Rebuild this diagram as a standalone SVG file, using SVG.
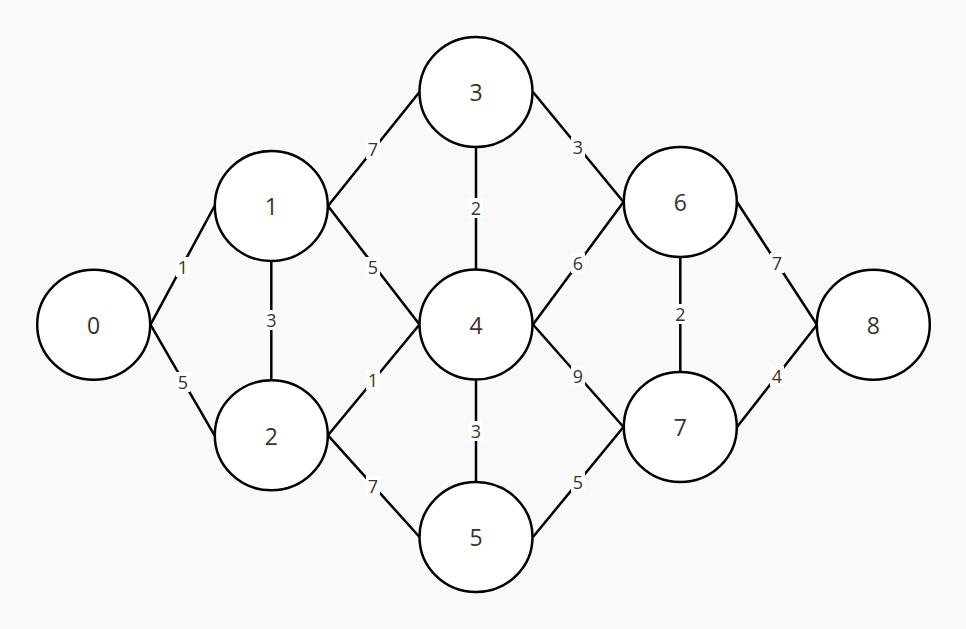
<svg xmlns="http://www.w3.org/2000/svg" width="966" height="629" viewBox="0 0 966 629">
<style>
.node ellipse{fill:#fff;stroke:#000;stroke-width:2.5}
.node text{font-family:"Open Sans","Noto Sans",sans-serif;font-size:23px;fill:#333;text-anchor:middle;dominant-baseline:central}
.edges line{stroke:#000;stroke-width:2.5}
.lbl rect{fill:#fff}
.lbl text{font-family:"Open Sans","Noto Sans",sans-serif;font-size:18px;fill:#333;text-anchor:middle;dominant-baseline:central}
</style>
<rect width="966" height="629" fill="#f9f9f9"/>
<g class="edges" id="edges">
<line x1="150.5" y1="324.7" x2="214.5" y2="206"/>
<line x1="150.5" y1="324.7" x2="214.5" y2="435.3"/>
<line x1="271.3" y1="261" x2="271.3" y2="380.3"/>
<line x1="328" y1="206" x2="419.5" y2="92"/>
<line x1="328" y1="206" x2="419.5" y2="324.5"/>
<line x1="328" y1="435.3" x2="419.5" y2="324.5"/>
<line x1="328" y1="435.3" x2="419.5" y2="537"/>
<line x1="476" y1="147" x2="476" y2="269.5"/>
<line x1="533" y1="92" x2="623.5" y2="202"/>
<line x1="533" y1="324.5" x2="623.5" y2="202"/>
<line x1="476" y1="379.5" x2="476" y2="482"/>
<line x1="533" y1="324.5" x2="623.5" y2="427"/>
<line x1="533" y1="537" x2="623.5" y2="427"/>
<line x1="680.3" y1="257" x2="680.3" y2="372"/>
<line x1="737" y1="202" x2="817" y2="324.7"/>
<line x1="737" y1="427" x2="817" y2="324.7"/>
<g class="lbl">
<rect x="176" y="257" width="14" height="20"/><text x="183" y="267">1</text>
<rect x="176" y="372" width="14" height="20"/><text x="183" y="382">5</text>
<rect x="264" y="310" width="14" height="20"/><text x="271.3" y="320">3</text>
<rect x="366" y="139" width="14" height="20"/><text x="373" y="149">7</text>
<rect x="366" y="257" width="14" height="20"/><text x="373" y="267">5</text>
<rect x="366" y="370" width="14" height="20"/><text x="373" y="380">1</text>
<rect x="366" y="476" width="14" height="20"/><text x="373" y="486">7</text>
<rect x="469" y="198" width="14" height="20"/><text x="476" y="208">2</text>
<rect x="571" y="137" width="14" height="20"/><text x="578" y="147">3</text>
<rect x="571" y="253" width="14" height="20"/><text x="578" y="263">6</text>
<rect x="469" y="421" width="14" height="20"/><text x="476" y="431">3</text>
<rect x="571" y="366" width="14" height="20"/><text x="578" y="376">9</text>
<rect x="571" y="472" width="14" height="20"/><text x="578" y="482">5</text>
<rect x="673" y="304" width="14" height="20"/><text x="680.3" y="314">2</text>
<rect x="770" y="253" width="14" height="20"/><text x="777" y="263">7</text>
<rect x="770" y="366" width="14" height="20"/><text x="777" y="376">4</text>
</g>
</g>
<g class="node" id="n0"><ellipse cx="93.7" cy="324.7" rx="56.5" ry="55"/><text x="93.7" y="325">0</text></g>
<g class="node" id="n1"><ellipse cx="271.3" cy="206" rx="56.5" ry="55"/><text x="271.3" y="206">1</text></g>
<g class="node" id="n2"><ellipse cx="271.3" cy="435.3" rx="56.5" ry="55"/><text x="271.3" y="435.5">2</text></g>
<g class="node" id="n3"><ellipse cx="476" cy="92" rx="56.5" ry="55"/><text x="476" y="92">3</text></g>
<g class="node" id="n4"><ellipse cx="476" cy="324.5" rx="56.5" ry="55"/><text x="476" y="324.5">4</text></g>
<g class="node" id="n5"><ellipse cx="476" cy="537" rx="56.5" ry="55"/><text x="476" y="537">5</text></g>
<g class="node" id="n6"><ellipse cx="680.3" cy="202" rx="56.5" ry="55"/><text x="680.3" y="202">6</text></g>
<g class="node" id="n7"><ellipse cx="680.3" cy="427" rx="56.5" ry="55"/><text x="680.3" y="427">7</text></g>
<g class="node" id="n8"><ellipse cx="873.3" cy="324.7" rx="56.5" ry="55"/><text x="873.3" y="325">8</text></g>
</svg>
